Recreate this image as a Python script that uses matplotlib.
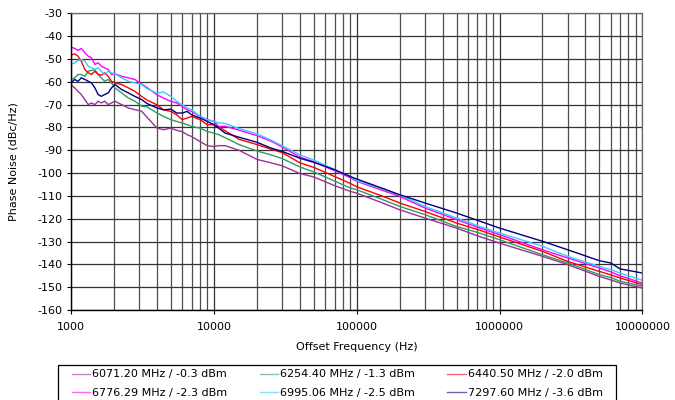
"""Phase noise vs offset frequency for six VCO tuning points."""
import numpy as np
import matplotlib
matplotlib.use("Agg")
import matplotlib.pyplot as plt
from matplotlib.patches import Rectangle
from matplotlib.ticker import FixedLocator, FuncFormatter, NullFormatter

plt.rcParams["font.family"] = ["DejaVu Sans"]
plt.rcParams["axes.unicode_minus"] = False

# offset frequency grid (Hz), shared by all traces
freq = [1000, 1060, 1120, 1180, 1250, 1320, 1390, 1470, 1550, 1630, 1720, 1820, 1920, 2030,
        2260, 2520, 2800, 3120, 3400,
        4000, 4450, 5000, 5500, 6000, 6500, 7000, 8000, 9000, 10000, 10800,
        12000, 15000, 20000, 25000, 30000, 40000, 50000, 70000, 90000,
        1e5, 1.5e5, 2e5, 3e5, 5e5, 7e5, 1e6, 2e6, 3e6, 5e6, 6e6, 7e6, 1e7]

pn_6071 = [-61.2, -62.7, -64.2, -65.6, -67.8, -70.0, -69.3, -70.0, -68.5, -69.3, -68.5, -70.0, -69.3, -68.5,
           -70.0, -71.5, -72.2, -72.9, -75.5,
           -80.3, -81.0, -80.3, -81.3, -81.8, -83.2, -84.0, -86.2, -88.0, -88.4, -88.0,
           -88.0, -90.0, -94.0, -95.5, -96.8, -100.2, -101.7, -105.5, -108.0,
           -108.8, -113.0, -116.1, -119.7, -124.1, -127.5, -130.7, -136.5, -140.1, -145.3, -146.8, -148.2, -150.4]
pn_6254 = [-59.0, -58.3, -56.8, -56.8, -57.6, -55.4, -55.0, -54.8, -56.8, -58.3, -59.8, -59.0, -60.5, -62.7,
           -64.9, -67.1, -68.5, -70.7, -71.0,
           -73.7, -75.2, -76.6, -77.4, -78.1, -78.8, -79.6, -80.3, -81.8, -82.5, -83.2,
           -84.5, -87.5, -90.3, -92.0, -93.6, -97.3, -99.5, -103.5, -106.5,
           -107.3, -111.5, -114.6, -118.2, -123.4, -126.0, -129.2, -135.8, -139.4, -144.5, -145.8, -147.4, -149.6]
pn_6440 = [-48.3, -47.8, -48.8, -51.0, -54.6, -56.1, -56.8, -55.4, -56.8, -57.1, -56.1, -57.6, -59.8, -60.5,
           -61.2, -62.7, -64.2, -66.4, -68.0,
           -70.1, -72.3, -73.0, -74.5, -76.6, -75.9, -75.2, -76.6, -78.8, -78.8, -79.6,
           -81.5, -85.2, -87.5, -89.5, -91.0, -95.5, -97.5, -101.5, -104.5,
           -106.0, -110.0, -113.1, -116.8, -121.9, -124.7, -128.0, -134.3, -138.7, -143.1, -144.6, -146.0, -148.9]
pn_6776 = [-44.8, -45.4, -46.3, -45.4, -47.3, -48.8, -49.5, -52.4, -51.7, -53.2, -53.9, -54.6, -56.8, -56.5,
           -57.6, -58.3, -59.0, -61.0, -62.5,
           -65.7, -67.2, -68.6, -69.3, -70.8, -72.3, -73.0, -75.2, -76.6, -77.4, -79.6,
           -79.5, -81.2, -83.6, -86.0, -88.5, -93.0, -95.0, -99.0, -102.0,
           -103.6, -107.5, -110.2, -115.3, -120.4, -123.7, -127.0, -133.6, -137.2, -141.6, -143.3, -145.0, -148.2]
pn_6995 = [-52.4, -51.7, -50.7, -50.2, -51.0, -53.2, -53.9, -54.6, -53.9, -55.4, -56.8, -55.4, -56.1, -56.5,
           -58.3, -59.8, -60.5, -61.2, -63.0,
           -65.0, -64.5, -66.4, -68.6, -70.1, -71.5, -72.3, -75.2, -76.6, -77.4, -78.0,
           -78.3, -80.5, -82.8, -85.5, -88.0, -92.0, -94.3, -98.5, -101.5,
           -103.3, -106.8, -109.6, -114.6, -119.7, -123.0, -126.3, -132.1, -136.5, -140.9, -142.3, -143.8, -147.0]
pn_7297 = [-60.5, -59.0, -59.8, -58.3, -59.0, -59.8, -60.5, -62.7, -65.6, -66.4, -65.6, -64.9, -62.7, -61.2,
           -63.4, -64.9, -66.4, -67.8, -69.5,
           -71.5, -72.3, -72.0, -73.7, -73.7, -73.0, -74.5, -75.9, -77.4, -78.8, -80.3,
           -82.5, -84.3, -86.5, -89.0, -90.5, -93.5, -95.3, -98.5, -101.5,
           -102.6, -106.6, -109.5, -113.1, -117.5, -120.7, -124.1, -129.9, -133.6, -138.4, -139.4, -142.0, -143.8]

series = [pn_6071, pn_6254, pn_6440, pn_6776, pn_6995, pn_7297]
labels = ["6071.20 MHz / -0.3 dBm", "6254.40 MHz / -1.3 dBm", "6440.50 MHz / -2.0 dBm",
          "6776.29 MHz / -2.3 dBm", "6995.06 MHz / -2.5 dBm", "7297.60 MHz / -3.6 dBm"]
colors = ["#993399", "#339966", "#FF0000", "#FF00FF", "#33CCFF", "#000080"]

y_ticks = list(range(-160, -29, 10))
x_major = [1e3, 1e4, 1e5, 1e6, 1e7]

fig = plt.figure(figsize=(6.75, 4.0), dpi=100)
ax = fig.add_axes([0.1052, 0.225, 0.8464, 0.7418])

handles = []
for y, lab, c in zip(series, labels, colors):
    h, = ax.plot(freq, y, color=c, lw=1.0, label=lab)
    handles.append(h)

ax.set_xscale("log")
ax.set_xlim(1e3, 1e7)
ax.set_ylim(-160, -30)
ax.yaxis.set_major_locator(FixedLocator(y_ticks))
ax.xaxis.set_major_locator(FixedLocator(x_major))
minors = [m * d for d in x_major[:-1] for m in range(2, 10)]
ax.xaxis.set_minor_locator(FixedLocator(minors))
ax.xaxis.set_major_formatter(FuncFormatter(lambda v, _: f"{int(round(v))}"))
ax.xaxis.set_minor_formatter(NullFormatter())

ax.grid(True, which="major", axis="both", color="0.2", lw=0.9)
ax.grid(True, which="minor", axis="x", color="0.3", lw=0.9)
ax.set_axisbelow(True)
for side in ("top", "right"):
    ax.spines[side].set_color("0.4")
    ax.spines[side].set_linewidth(0.9)
for side in ("left", "bottom"):
    ax.spines[side].set_color("black")
    ax.spines[side].set_linewidth(1.0)

ax.tick_params(axis="both", which="major", length=3, width=0.8, labelsize=8, pad=3)
ax.tick_params(axis="x", which="minor", length=0)
ax.tick_params(axis="x", which="major", pad=6)

ax.set_xlabel("Offset Frequency (Hz)", fontsize=8, labelpad=7)
ax.set_ylabel("Phase Noise (dBc/Hz)", fontsize=8)
ax.yaxis.set_label_coords(-0.092, 0.5)

# legend box runs off the bottom edge, so draw the frame separately
fig.patches.append(Rectangle((0.0864, -0.05), 0.8255, 0.1375, transform=fig.transFigure,
                             facecolor="white", edgecolor="black", lw=0.9, zorder=0))

# legend fills column-first; reorder so rows read left to right like the original
order = [0, 3, 1, 4, 2, 5]
leg = fig.legend([handles[i] for i in order], [labels[i] for i in order],
                 loc="upper left", bbox_to_anchor=(0.0997, 0.0, 0.800, 0.0875), mode="expand",
                 ncol=3, fontsize=8, frameon=False, borderaxespad=0,
                 handlelength=1.65, handletextpad=0.2, labelspacing=0.73, borderpad=0.4)
for line in leg.get_lines():
    line.set_alpha(0.6)

fig.savefig("out.png", dpi=100)
